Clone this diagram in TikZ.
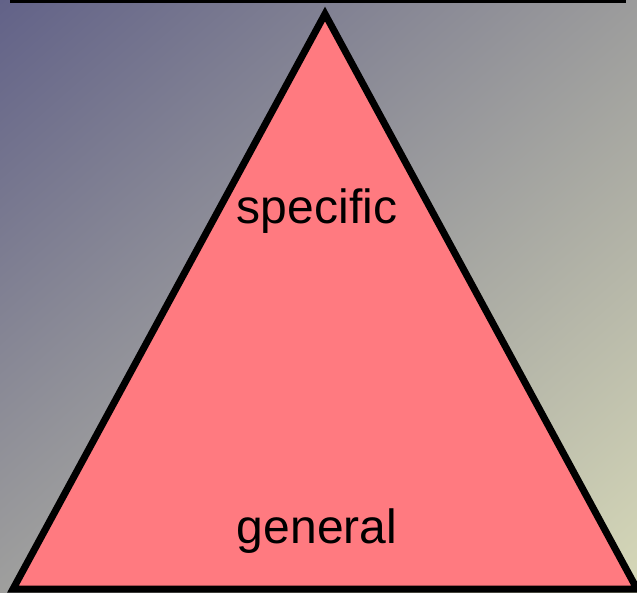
\documentclass[tikz,border=0pt]{standalone}
\usepackage{fontspec}
\setmainfont{Liberation Sans}
\usetikzlibrary{shadings}
\definecolor{bgtl}{RGB}{98,98,136}
\definecolor{bgbr}{RGB}{214,216,184}
\definecolor{bgmid}{RGB}{156,156,156}
\definecolor{pyramid}{RGB}{255,122,128}
\tikzset{
  lbl/.style={font=\fontsize{48}{54}\selectfont, text=black, anchor=base, inner sep=0pt},
  edge/.style={draw=black, line width=7pt, line join=miter},
}
\begin{document}
\begin{tikzpicture}[x=1pt,y=-1pt]
  \useasboundingbox (0,0) rectangle (637,592);
  % diagonal background wash
  \begin{scope}
    \clip (0,0) rectangle (637,592);
    \shade[upper left=bgtl, upper right=bgmid, lower left=bgmid!95!bgbr, lower right=bgbr]
      (0,0) rectangle (637,592);
  \end{scope}
  % rule along the top edge
  \coordinate (ruleL) at (10,1);
  \coordinate (ruleR) at (626,1);
  \draw[line width=3pt] (ruleL) -- (ruleR);
  % pyramid
  \coordinate (apex) at (325,14);
  \coordinate (bl) at (13,589);
  \coordinate (br) at (637,589);
  \begin{scope}
    \clip (0,0) rectangle (637,592);
    \path[edge, fill=pyramid] (apex) -- (br) -- (bl) -- cycle;
  \end{scope}
  \node[lbl] (specific) at (317,223) {specific};
  \node[lbl] (general) at (317,543) {general};
\end{tikzpicture}
\end{document}
